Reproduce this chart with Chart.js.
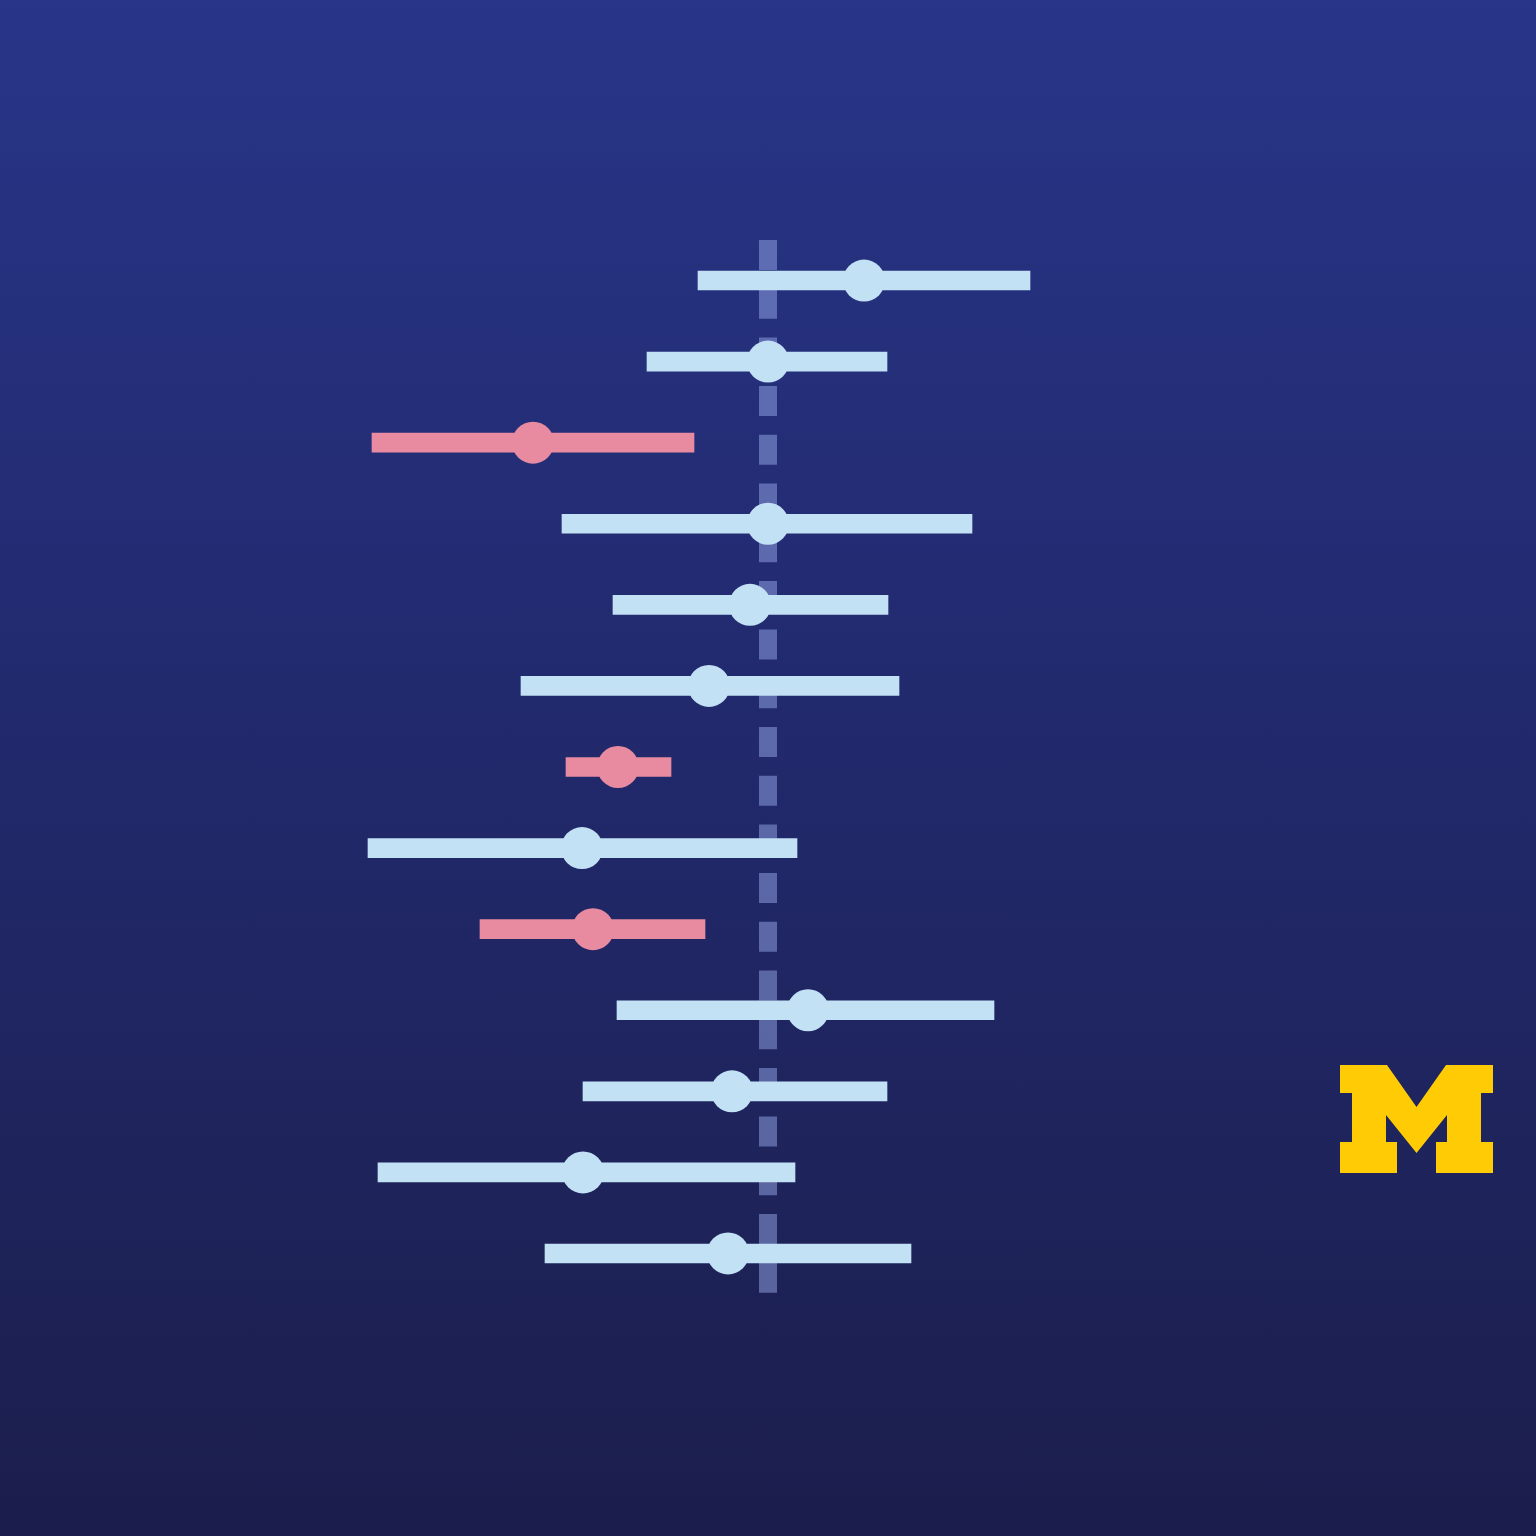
<!DOCTYPE html>
<html>
<head>
<meta charset="utf-8">
<script src="https://cdn.jsdelivr.net/npm/chart.js@4.4.1/dist/chart.umd.min.js"></script>
<style>
  html, body { margin: 0; padding: 0; }
  body {
    width: 1536px;
    height: 1536px;
    overflow: hidden;
    background: linear-gradient(to bottom, #283588 0%, #222a6e 45%, #1b1e4c 100%);
  }
  canvas { display: block; }
</style>
</head>
<body>
<canvas id="forest" width="1536" height="1536"></canvas>
<script>
// study rows, top to bottom
const studies = ['1', '2', '3', '4', '5', '6', '7', '8', '9', '10', '11', '12', '13'];
// effect estimates and confidence limits
const estimates = [0.48, 0.0, -1.175, 0.0, -0.09, -0.295, -0.75, -0.93, -0.875, 0.2, -0.18, -0.925, -0.2];
const lowerCI   = [-0.35, -0.605, -1.98, -1.03, -0.775, -1.235, -1.01, -2.0, -1.44, -0.755, -0.925, -1.95, -1.115];
const upperCI   = [1.31, 0.595, -0.37, 1.02, 0.60, 0.655, -0.485, 0.145, -0.315, 1.13, 0.595, 0.135, 0.715];
const nullValue = 0;

const BLUE = '#c3e1f5';
const PINK = '#e98ba0';

// rows whose whole interval sits below the null line are pink
const rowColors = upperCI.map(u => (u < nullValue ? PINK : BLUE));

// dashed reference line at the null value
const nullLine = {
  id: 'nullLine',
  beforeDatasetsDraw(chart) {
    const { ctx, chartArea, scales } = chart;
    const x = scales.x.getPixelForValue(nullValue);
    ctx.save();
    ctx.strokeStyle = 'rgba(150, 168, 232, 0.5)';
    ctx.lineWidth = 18;
    ctx.setLineDash([30, 18.7]);
    ctx.beginPath();
    ctx.moveTo(x, chartArea.top);
    ctx.lineTo(x, chartArea.bottom);
    ctx.stroke();
    ctx.restore();
  }
};

// block M logo, bottom right
const logo = {
  id: 'logo',
  afterDraw(chart) {
    const ctx = chart.ctx;
    const ox = 1340, oy = 1065;
    const pts = [
      [0, 0], [47, 0], [76.5, 42], [106, 0], [153, 0], [153, 28], [141, 28], [141, 77],
      [153, 77], [153, 108], [96, 108], [96, 77], [107, 77], [107, 50], [76.5, 88],
      [46, 50], [46, 77], [57, 77], [57, 108], [0, 108], [0, 77], [12, 77], [12, 28], [0, 28]
    ];
    ctx.save();
    ctx.fillStyle = '#ffcb05';
    ctx.beginPath();
    pts.forEach(([px, py], i) => {
      if (i === 0) ctx.moveTo(ox + px, oy + py);
      else ctx.lineTo(ox + px, oy + py);
    });
    ctx.closePath();
    ctx.fill();
    ctx.restore();
  }
};

new Chart(document.getElementById('forest'), {
  type: 'bar',
  data: {
    labels: studies,
    datasets: [
      {
        type: 'line',
        label: 'estimate',
        data: estimates,
        showLine: false,
        pointRadius: 21,
        pointHoverRadius: 21,
        pointBorderWidth: 0,
        pointBackgroundColor: rowColors,
        order: 0
      },
      {
        label: 'interval',
        data: lowerCI.map((l, i) => [l, upperCI[i]]),
        backgroundColor: rowColors,
        borderWidth: 0,
        borderSkipped: false,
        barThickness: 19,
        order: 1
      }
    ]
  },
  options: {
    indexAxis: 'y',
    responsive: false,
    devicePixelRatio: 1,
    animation: false,
    layout: { autoPadding: false, padding: { top: 240, bottom: 242, left: 0, right: 0 } },
    plugins: { legend: { display: false }, tooltip: { enabled: false } },
    scales: {
      x: { type: 'linear', min: -3.84, max: 3.84, display: false },
      y: { display: false, offset: true }
    }
  },
  plugins: [nullLine, logo]
});
</script>
</body>
</html>
